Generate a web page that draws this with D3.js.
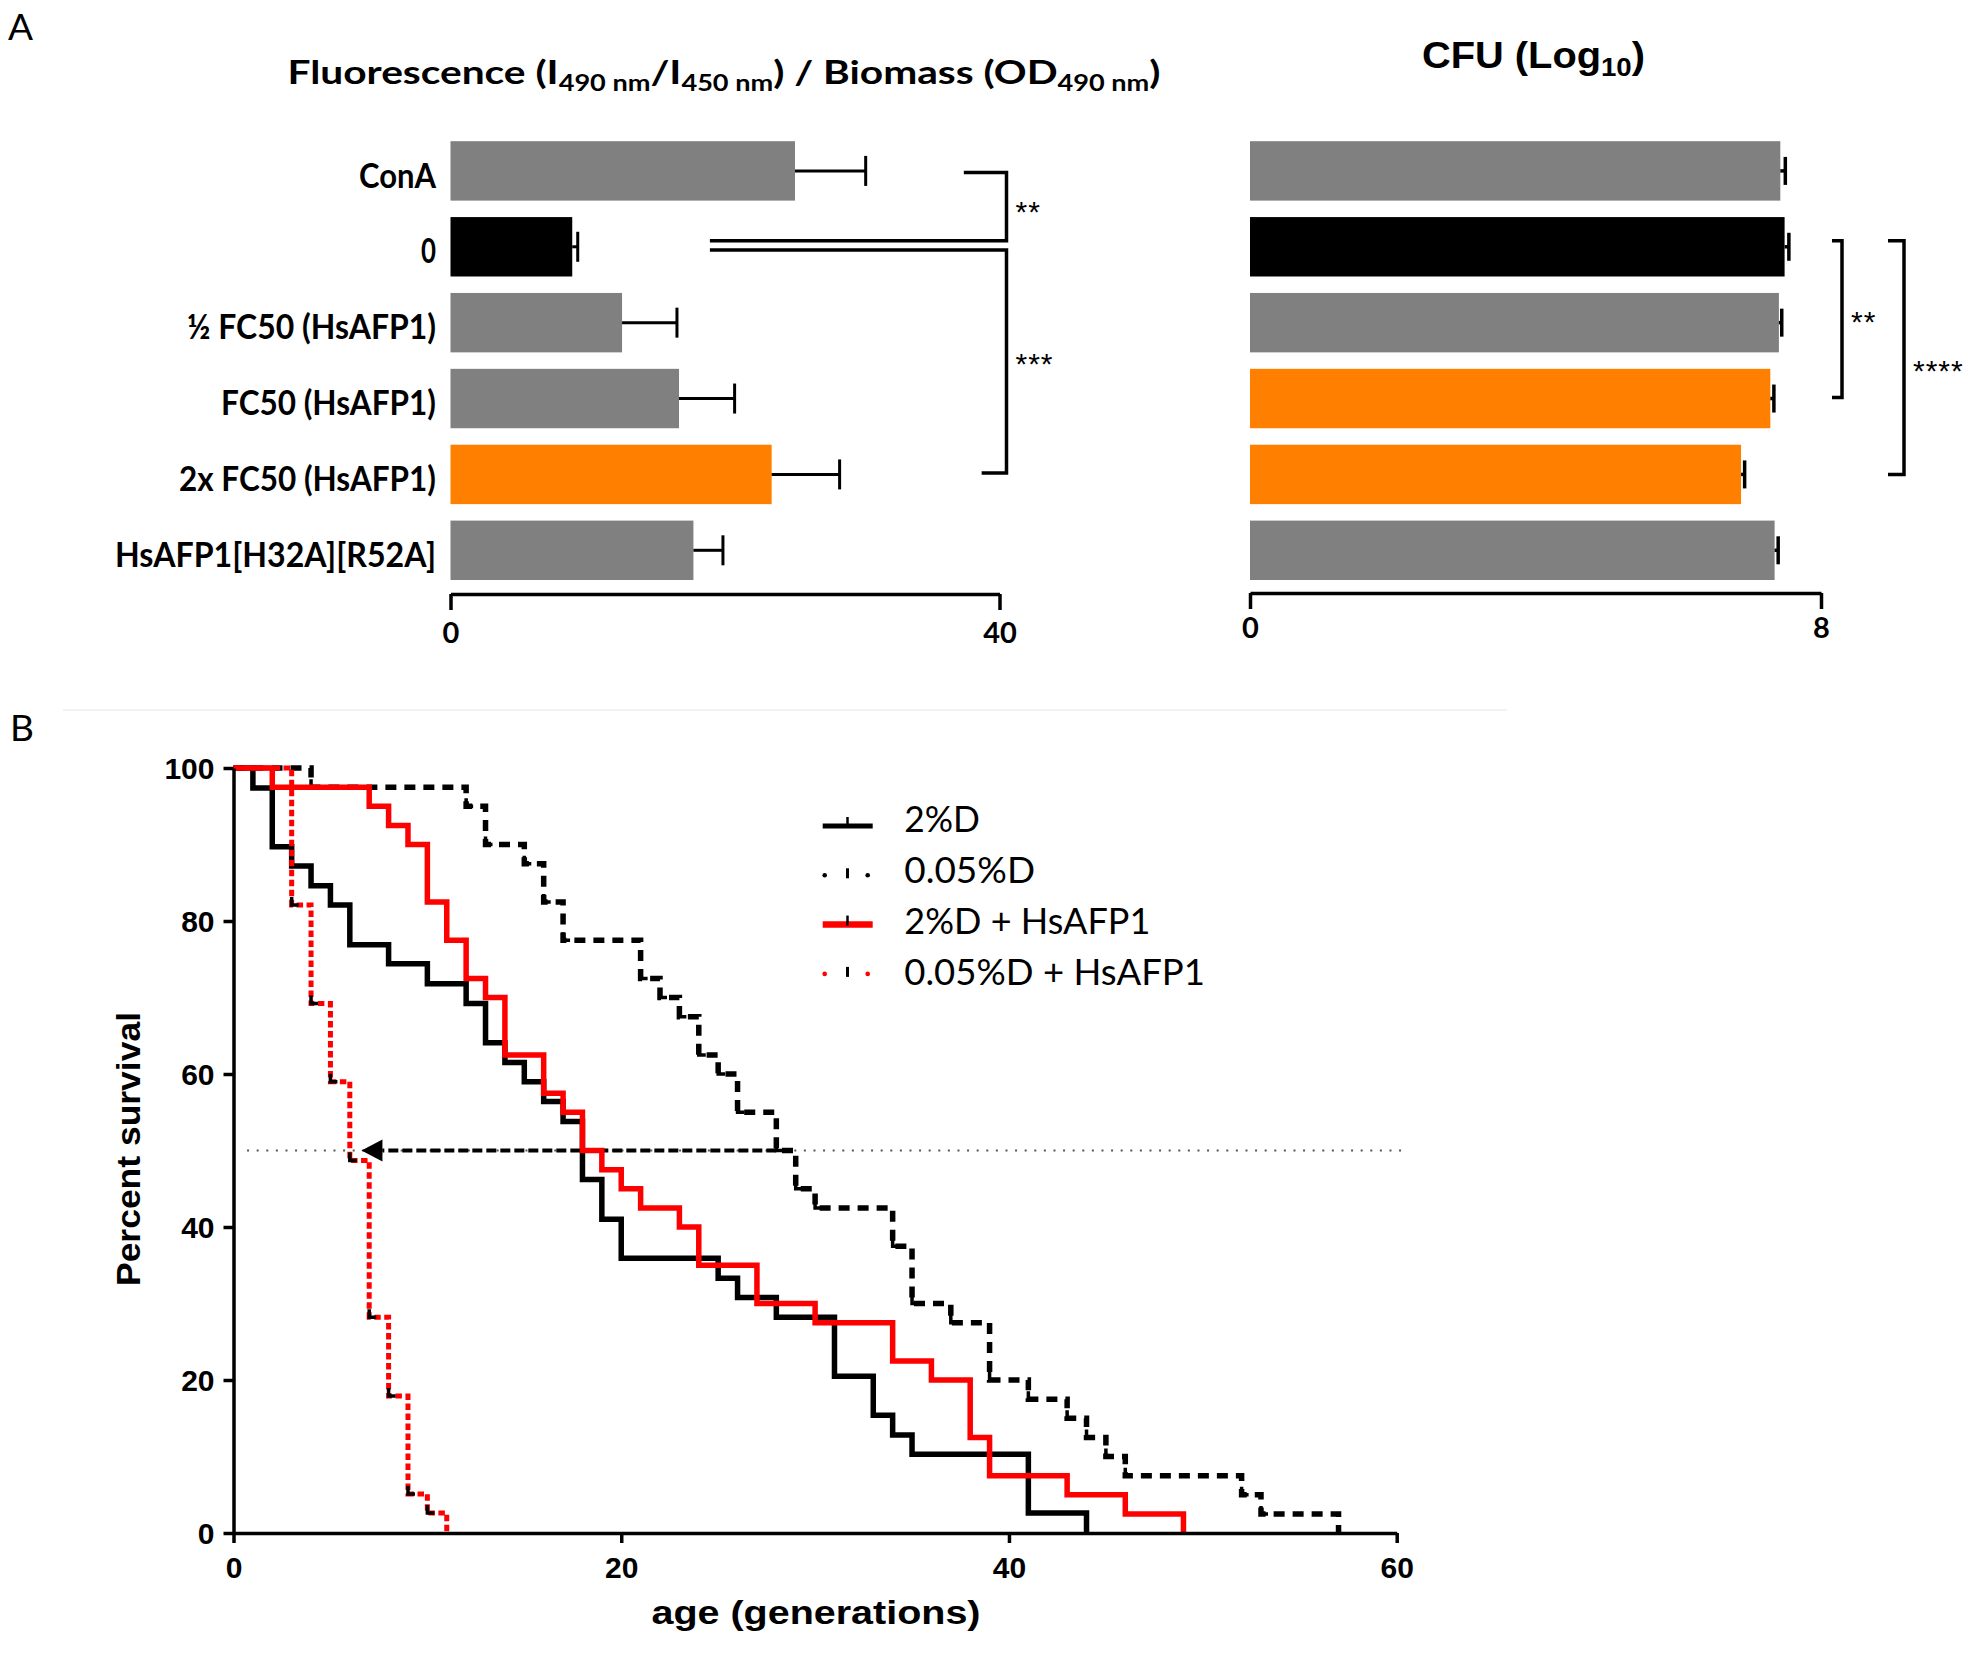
<!DOCTYPE html>
<html><head><meta charset="utf-8">
<script src="https://cdn.jsdelivr.net/npm/d3@7"></script>
<style>body{margin:0;background:#fff}svg{display:block}</style>
</head><body>
<svg id="c" width="1977" height="1653"></svg>
<script>
// ---------------- DATA ----------------
const categories = ["ConA", "0", "½ FC50 (HsAFP1)", "FC50 (HsAFP1)", "2x FC50 (HsAFP1)", "HsAFP1[H32A][R52A]"];
const fluoValues = [25.1, 8.87, 12.5, 16.65, 23.4, 17.7];
const fluoErrors = [5.15, 0.4, 4.0, 4.05, 4.95, 2.15];
const cfuValues = [7.43, 7.49, 7.41, 7.29, 6.88, 7.35];
const cfuErrors = [0.07, 0.06, 0.04, 0.05, 0.05, 0.05];
const fluoTicks = [0, 40];
const cfuTicks = [0, 8];

const seriesNames = ["2%D", "0.05%D", "2%D + HsAFP1", "0.05%D + HsAFP1"];
const d2Times = [0,1,2,3,4,5,6,8,10,12,13,14,15,16,17,18,19,20,25,26,28,31,33,34,35,41,44];
const d2Surv  = [100,97.4,89.7,87.2,84.6,82.1,76.9,74.4,71.8,69.2,64.1,61.5,59.0,56.4,53.8,46.2,41.0,35.9,33.3,30.8,28.2,20.5,15.4,12.8,10.3,2.6,0];
const d005Times = [0,4,12,13,15,16,17,21,22,23,24,25,26,28,29,30,34,35,37,39,41,43,44,45,46,52,53,57];
const d005Surv  = [100,97.5,95,90,87.5,82.5,77.5,72.5,70,67.5,62.5,60,55,50,45,42.5,37.5,30,27.5,20,17.5,15,12.5,10,7.5,5,2.5,0];
const d2hTimes = [0,2,7,8,9,10,11,12,13,14,16,17,18,19,20,21,23,24,27,30,34,36,38,39,43,46,49];
const d2hSurv  = [100,97.5,95,92.5,90,82.5,77.5,72.5,70,62.5,57.5,55,50,47.5,45,42.5,40,35,30,27.5,22.5,20,12.5,7.5,5,2.5,0];
const d005hTimes = [0,3,4,5,6,7,8,9,10,11];
const d005hSurv  = [100,82.1,69.2,59.0,48.7,28.2,17.9,5.1,2.6,0];
const survTicksX = [0, 20, 40, 60];
const survTicksY = [0, 20, 40, 60, 80, 100];
const medianLevel = 50;
const medianRange = [0.7, 60.3];
const arrowFromTo = [28, 6.6];

// ---------------- STYLES ----------------
const GRAY = "#808080", ORANGE = "#FF8000";
const fluoColors = [GRAY, "#000", GRAY, GRAY, ORANGE, GRAY];
const cfuColors = [GRAY, "#000", GRAY, ORANGE, ORANGE, GRAY];
const FC = "Lato, 'Open Sans', sans-serif";
const FA = "'Liberation Sans', Arial, sans-serif";

const svg = d3.select("#c");
function fit(sel, w) { sel.attr("textLength", w).attr("lengthAdjust", "spacingAndGlyphs"); return sel; }

// panel letters
svg.append("text").attr("x", 8).attr("y", 40).attr("font-family", FC).attr("font-size", 37).text("A");
svg.append("text").attr("x", 10).attr("y", 741).attr("font-family", FC).attr("font-size", 37).text("B");

// ---------------- PANEL A ----------------
const yBand = d3.scaleBand().domain(categories).range([133, 588.2]).paddingInner(0.217).paddingOuter(0.108);
const xFluo = d3.scaleLinear().domain([0, 40]).range([450.5, 999.5]);
const xCfu = d3.scaleLinear().domain([0, 8]).range([1250, 1821]);
const bw = yBand.bandwidth();
const cy = d => yBand(d) + bw / 2;

// titles
const t1 = svg.append("text").attr("x", 287.5).attr("y", 84).attr("font-family", FC).attr("font-weight", "bold").attr("font-size", 33);
t1.append("tspan").text("Fluorescence (I");
t1.append("tspan").attr("font-size", 22).attr("dy", 7).text("490 nm");
t1.append("tspan").attr("dy", -7).text("/I");
t1.append("tspan").attr("font-size", 22).attr("dy", 7).text("450 nm");
t1.append("tspan").attr("dy", -7).text(") / Biomass (OD");
t1.append("tspan").attr("font-size", 22).attr("dy", 7).text("490 nm");
t1.append("tspan").attr("dy", -7).text(")");
fit(t1, 873);

const t2 = svg.append("text").attr("x", 1422).attr("y", 68).attr("font-family", FA).attr("font-weight", "bold").attr("font-size", 36);
t2.append("tspan").text("CFU (Log");
t2.append("tspan").attr("font-size", 25).attr("dy", 8).text("10");
t2.append("tspan").attr("dy", -8).text(")");
fit(t2, 223);

function barChart(x, values, errors, colors, capH, errW) {
  const g = svg.append("g");
  g.selectAll("rect.bar").data(categories).join("rect").attr("class", "bar")
    .attr("x", x(0)).attr("y", d => yBand(d)).attr("height", bw)
    .attr("width", (d, i) => x(values[i]) - x(0)).attr("fill", (d, i) => colors[i]);
  g.selectAll("line.err").data(categories).join("line").attr("class", "err")
    .attr("x1", (d, i) => x(values[i])).attr("x2", (d, i) => x(values[i] + errors[i]))
    .attr("y1", cy).attr("y2", cy).attr("stroke", "#000").attr("stroke-width", errW);
  g.selectAll("line.cap").data(categories).join("line").attr("class", "cap")
    .attr("x1", (d, i) => x(values[i] + errors[i])).attr("x2", (d, i) => x(values[i] + errors[i]))
    .attr("y1", d => cy(d) - capH / 2).attr("y2", d => cy(d) + capH / 2).attr("stroke", "#000").attr("stroke-width", errW);
  return g;
}
barChart(xFluo, fluoValues, fluoErrors, fluoColors, 30, 3);
barChart(xCfu, cfuValues, cfuErrors, cfuColors, 28, 3.5);

// category labels
const labelWidths = [77, 15, 249, 215, 257, 321];
svg.append("g").selectAll("text").data(categories).join("text")
  .attr("x", 436).attr("y", d => cy(d) + 4).attr("dy", "0.36em").attr("text-anchor", "end")
  .attr("font-family", FC).attr("font-weight", "bold").attr("font-size", 35)
  .text(d => d)
  .each(function(d, i) { fit(d3.select(this), labelWidths[i]); });

function styleAxis(g, fs, font) {
  g.select(".domain").attr("stroke-width", 3.5);
  g.selectAll(".tick line").attr("stroke-width", 3.5);
  g.selectAll(".tick text").attr("font-family", font).attr("font-weight", "bold").attr("font-size", fs).attr("fill", "#000");
}
const axF = svg.append("g").attr("transform", "translate(0,594)")
  .call(d3.axisBottom(xFluo).tickValues(fluoTicks).tickSize(16).tickSizeOuter(0).tickPadding(12));
styleAxis(axF, 29, FC);
const axC = svg.append("g").attr("transform", "translate(0,593)")
  .call(d3.axisBottom(xCfu).tickValues(cfuTicks).tickSize(16).tickSizeOuter(0).tickPadding(8));
styleAxis(axC, 29, FC);

// significance brackets (left)
const br = svg.append("g").attr("fill", "none").attr("stroke", "#000").attr("stroke-width", 3.5);
const bxL = xFluo(40) + 7;
br.append("path").attr("d", `M${xFluo(37.4)},${cy(categories[0]) + 1.5} H${bxL} V${cy(categories[1]) - 6} H${xFluo(18.9)}`);
br.append("path").attr("d", `M${xFluo(18.9)},${cy(categories[1]) + 3.3} H${bxL} V${cy(categories[4]) - 1.5} H${xFluo(38.7)}`);
// right
const bxR1 = xCfu(8) + 21, bxR2 = xCfu(8) + 83;
br.append("path").attr("d", `M${bxR1 - 10},${cy(categories[1]) - 6} H${bxR1} V${cy(categories[3]) - 1} H${bxR1 - 10}`);
br.append("path").attr("d", `M${bxR2 - 16},${cy(categories[1]) - 6} H${bxR2} V${cy(categories[4])} H${bxR2 - 16}`);

const stars = [
  {x: bxL + 9, y: 222, s: "**"},
  {x: bxL + 9, y: 374, s: "***"},
  {x: bxR1 + 9, y: 332, s: "**"},
  {x: bxR2 + 9, y: 381, s: "****"}
];
svg.append("g").selectAll("text").data(stars).join("text")
  .attr("x", d => d.x).attr("y", d => d.y).attr("font-family", FA).attr("font-size", 30)
  .attr("letter-spacing", 1).text(d => d.s);

// ---------------- PANEL B ----------------
svg.append("line").attr("x1", 63).attr("x2", 1507).attr("y1", 710).attr("y2", 710).attr("stroke", "#eeeeee").attr("stroke-width", 1.5);

const xS = d3.scaleLinear().domain([0, 60]).range([233.5, 1396.7]);
const yS = d3.scaleLinear().domain([0, 100]).range([1533, 768]);

// median reference line (dotted)
svg.append("line").attr("x1", xS(medianRange[0])).attr("x2", xS(medianRange[1]))
  .attr("y1", yS(medianLevel)).attr("y2", yS(medianLevel))
  .attr("stroke", "#555").attr("stroke-width", 2).attr("stroke-dasharray", "2,7.6");

const zip = (t, s) => t.map((v, i) => [v, s[i]]);
const series = [
  {name: seriesNames[1], data: zip(d005Times, d005Surv), color: "#000", dash: "11,8", w: 5.5, marks: true},
  {name: seriesNames[0], data: zip(d2Times, d2Surv), color: "#000", dash: null, w: 5.5},
  {name: seriesNames[2], data: zip(d2hTimes, d2hSurv), color: "#ff0000", dash: null, w: 5.5},
  {name: seriesNames[3], data: zip(d005hTimes, d005hSurv), color: "#ff0000", dash: "6.5,3.5", w: 5, marks: true}
];
const stepLine = d3.line().x(d => xS(d[0])).y(d => yS(d[1])).curve(d3.curveStepAfter);

// arrow
const ay = yS(medianLevel);
const aTip = xS(arrowFromTo[1]);
const aBase = aTip + 21;
svg.append("line").attr("x1", xS(arrowFromTo[0])).attr("x2", aBase).attr("y1", ay).attr("y2", ay)
  .attr("stroke", "#000").attr("stroke-width", 4).attr("stroke-dasharray", "10,4");

series.forEach(s => {
  svg.append("path").attr("d", stepLine(s.data)).attr("fill", "none")
    .attr("stroke", s.color).attr("stroke-width", s.w)
    .attr("stroke-dasharray", s.dash);
  if (s.marks) {
    const pts = s.data.slice(1, -1);
    svg.append("g").selectAll("path").data(pts).join("path")
      .attr("d", d => `M${xS(d[0])},${yS(d[1]) - 8} V${yS(d[1])} H${xS(d[0]) + 7}`)
      .attr("fill", "none").attr("stroke", "#000").attr("stroke-width", 3.5);
  }
});
svg.append("path").attr("d", `M${aTip},${ay} L${aBase},${ay - 11} L${aBase},${ay + 11} Z`).attr("fill", "#000");

// axes
const axY = svg.append("g").attr("transform", `translate(${xS(0)},0)`)
  .call(d3.axisLeft(yS).tickValues(survTicksY).tickSize(10).tickSizeOuter(0).tickPadding(9));
styleAxis(axY, 30, FA);
axY.selectAll(".tick text").attr("dy", "0.36em");
const axX = svg.append("g").attr("transform", `translate(0,${yS(0)})`)
  .call(d3.axisBottom(xS).tickValues(survTicksX).tickSize(10).tickSizeOuter(0).tickPadding(14));
styleAxis(axX, 30, FA);

// axis titles
fit(svg.append("text").attr("transform", "translate(140,1149) rotate(-90)").attr("text-anchor", "middle")
  .attr("font-family", FA).attr("font-weight", "bold").attr("font-size", 33).text("Percent survival"), 274);
fit(svg.append("text").attr("x", 816).attr("y", 1624).attr("text-anchor", "middle")
  .attr("font-family", FA).attr("font-weight", "bold").attr("font-size", 33).text("age (generations)"), 329);

// legend
const lg = svg.append("g");
const legendWidths = [75.7, 130.7, 246, 300.7];
const lx0 = 822.7, lx1 = 872.7, lxm = 847.5;
seriesNames.forEach((name, i) => {
  const sy = 826 + i * 49.3;
  const col = (i >= 2) ? "#ff0000" : "#000";
  if (i === 0 || i === 2) {
    lg.append("line").attr("x1", lx0).attr("x2", lx1).attr("y1", sy).attr("y2", sy)
      .attr("stroke", col).attr("stroke-width", i === 2 ? 6.5 : 5);
    lg.append("line").attr("x1", lxm).attr("x2", lxm).attr("y1", sy - 9).attr("y2", sy + 1)
      .attr("stroke", "#000").attr("stroke-width", 2.5);
  } else {
    [lx0 + 2, lx1 - 5].forEach(x => lg.append("circle").attr("cx", x).attr("cy", sy).attr("r", 2.3).attr("fill", col));
    lg.append("line").attr("x1", lxm).attr("x2", lxm).attr("y1", sy - 7).attr("y2", sy + 3)
      .attr("stroke", "#000").attr("stroke-width", 3);
  }
  fit(lg.append("text").attr("x", 904.3).attr("y", 831.5 + i * 51.1)
    .attr("font-family", FC).attr("font-size", 36).text(name), legendWidths[i]);
});
</script>
</body></html>
